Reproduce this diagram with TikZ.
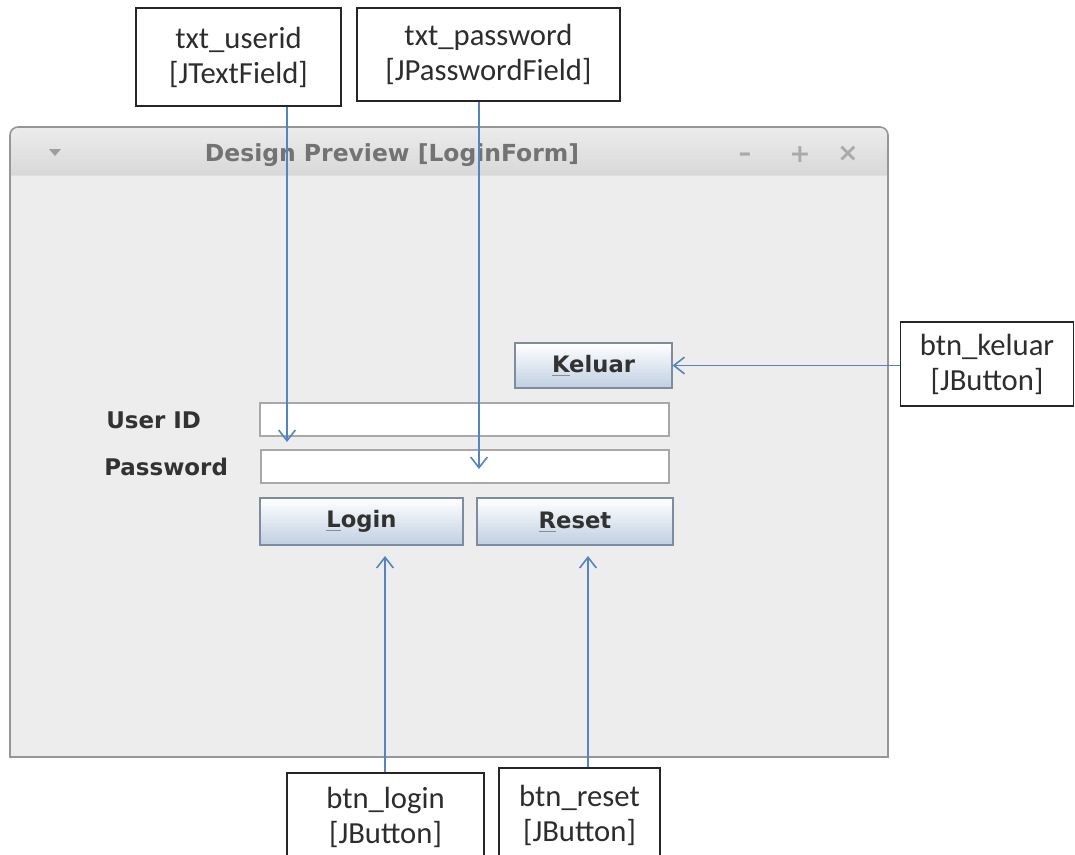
\documentclass[tikz,border=0pt]{standalone}
\usepackage{fontspec}
\setmainfont{Carlito}
\newfontfamily\jfont{DejaVu Sans}
\usetikzlibrary{arrows.meta}
\definecolor{arrowblue}{RGB}{84,132,194}
\definecolor{labeltext}{RGB}{45,45,45}
\definecolor{winbody}{RGB}{237,237,237}
\definecolor{winborder}{RGB}{150,150,150}
\definecolor{titletop}{RGB}{236,236,236}
\definecolor{titlebot}{RGB}{216,216,216}
\definecolor{titletext}{RGB}{115,115,115}
\definecolor{ctltext}{RGB}{170,170,170}
\definecolor{btnborder}{RGB}{125,140,158}
\definecolor{btnbot}{RGB}{192,207,226}
\definecolor{fieldborder}{RGB}{168,168,168}
\definecolor{jtext}{RGB}{50,50,50}
\newcommand{\mnem}[1]{\setbox0\hbox{#1}\rlap{\color{black!45}\rule[-2.2pt]{\wd0}{0.5pt}}#1}
\begin{document}
\begin{tikzpicture}[x=0.75pt,y=-0.75pt,
  lbl/.style={draw=black!85, line width=1.1pt, fill=white, text=labeltext, align=center,
    inner sep=0pt, font=\fontsize{23}{26.25}\selectfont},
  arr/.style={draw=arrowblue, line width=1.2pt,
    -{Straight Barb[length=8pt,width=12.5pt,line width=1.2pt]}},
  jbtn/.style={draw=btnborder, line width=0.8pt, top color=white, bottom color=btnbot,
    inner sep=0pt, text=jtext, font=\jfont\bfseries\fontsize{17}{20}\selectfont},
  jfield/.style={draw=fieldborder, line width=0.8pt, fill=white, inner sep=0pt},
  jlabel/.style={anchor=west, inner sep=0pt, text=jtext, font=\jfont\bfseries\fontsize{17.2}{20}\selectfont},
  ctl/.style={inner sep=0pt, text=ctltext, font=\jfont\bfseries\fontsize{19}{22}\selectfont}
]
\useasboundingbox (0,0) rectangle (1075,854);
\clip (0,0) rectangle (1075,854);

% window body
\fill[winbody] (10,757) -- (10,135) arc[start angle=180,end angle=270,radius=8]
  -- (880,127) arc[start angle=270,end angle=360,radius=8] -- (888,757) -- cycle;
% title bar
\shade[top color=titletop, bottom color=titlebot] (10,175) -- (10,135) arc[start angle=180,end angle=270,radius=8]
  -- (880,127) arc[start angle=270,end angle=360,radius=8] -- (888,175) -- cycle;
\draw[draw=black!12, line width=0.8pt] (10.5,175.5) -- (887.5,175.5);
% window border
\draw[winborder, line width=1.2pt] (10,757) -- (10,135) arc[start angle=180,end angle=270,radius=8]
  -- (880,127) arc[start angle=270,end angle=360,radius=8] -- (888,757) -- cycle;

% title bar contents
\fill[black!38] (49,149) -- (61,149) -- (55,156) -- cycle;
\node[inner sep=0pt, text=titletext, font=\jfont\bfseries\fontsize{17.6}{20}\selectfont] (title) at (392,155) {Design Preview [LoginForm]};
\node[ctl] (cmin) at (745,157) {–};
\node[ctl] (cmax) at (800,155) {+};
\node[ctl] (cclose) at (848,154) {×};

% form widgets
\node[jbtn, minimum width=117.75pt, minimum height=33.75pt] (kel) at (593.5,365.5) {\mnem{K}eluar};
\node[jlabel] (luid) at (106,420) {User ID};
\node[jlabel] (lpw) at (104,467) {Password};
\node[jfield, minimum width=306.75pt, minimum height=24.75pt] (fuid) at (464.5,419.5) {};
\node[jfield, minimum width=306pt, minimum height=24.75pt] (fpw) at (465,466.5) {};
\node[jbtn, minimum width=152.25pt, minimum height=35.25pt] (login) at (361.5,521.5) {\mnem{L}ogin};
\node[jbtn, minimum width=147pt, minimum height=35.25pt] (reset) at (575,521.5) {\mnem{R}eset};

% annotation boxes
\node[lbl, minimum width=153.75pt, minimum height=73.5pt] (uid) at (238.5,57) {txt\_userid\\{}[JTextField]};
\node[lbl, minimum width=197.25pt, minimum height=69.75pt] (pw) at (488.5,54.5) {txt\_password\\{}[JPasswordField]};
\node[lbl, minimum width=129.75pt, minimum height=63pt] (bk) at (987,364) {btn\_keluar\\{}[JButton]};
\node[lbl, minimum width=147.75pt, minimum height=66pt] (bl) at (385.5,817) {btn\_login\\{}[JButton]};
\node[lbl, minimum width=120.75pt, minimum height=70.5pt] (br) at (579.5,815) {btn\_reset\\{}[JButton]};

% connectors
\coordinate (uidtip) at (287,442);
\coordinate (pwtip) at (479,469);
\coordinate (ltip) at (385,556);
\coordinate (rtip) at (588,556);
\draw[arr] (uid.south -| uidtip) -- (uidtip);
\draw[arr] (pw.south -| pwtip) -- (pwtip);
\draw[arr] (bk.west |- kel.east) -- (kel.east);
\draw[arr] (bl.north -| ltip) -- (ltip);
\draw[arr] (br.north -| rtip) -- (rtip);
\end{tikzpicture}
\end{document}
